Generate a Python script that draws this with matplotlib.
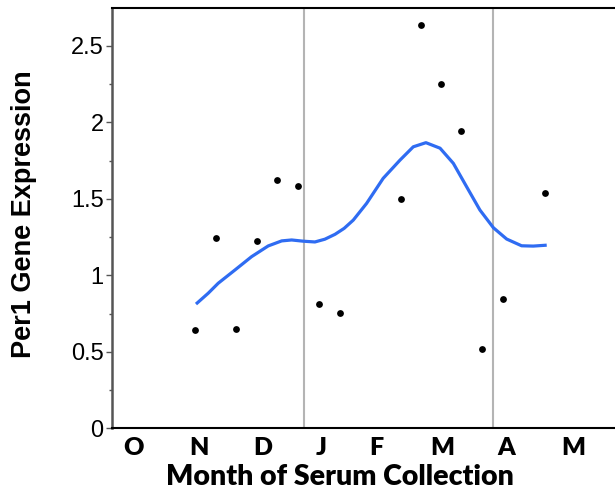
import matplotlib
matplotlib.use("Agg")
import matplotlib.pyplot as plt
from matplotlib.ticker import MultipleLocator

# Data (x in days since Oct 1)
point_days = [29.5, 39.4, 49.4, 59.3, 69.1, 79.1, 89.1, 99.2, 128.5, 138.5, 147.9, 157.5, 167.5, 177.6, 197.9]
point_expr = [0.642, 1.246, 0.65, 1.226, 1.625, 1.584, 0.812, 0.754, 1.497, 2.634, 2.248, 1.941, 0.518, 0.847, 1.540]

curve_days = [29.9, 35.8, 40.6, 48.7, 56.7, 64.7, 71.2, 76.0, 81.6, 87.2, 92.0, 96.9, 101.3, 105.7,
              112.1, 120.1, 128.2, 134.6, 140.7, 147.5, 153.9, 160.3, 166.7, 173.2, 179.6, 186.8,
              192.4, 198.9]
curve_expr = [0.812, 0.883, 0.948, 1.035, 1.122, 1.192, 1.225, 1.231, 1.223, 1.218, 1.236, 1.268, 1.307,
              1.361, 1.470, 1.634, 1.753, 1.840, 1.867, 1.831, 1.732, 1.579, 1.427, 1.311, 1.237,
              1.193, 1.191, 1.197]

month_labels = ["O", "N", "D", "J", "F", "M", "A", "M"]
month_ticks = [0, 31.3, 61.9, 90.1, 117, 148.4, 179.3, 211.6]
reference_days = [82, 173]  # winter solstice, spring equinox

fig = plt.figure(figsize=(6.15, 4.92), dpi=100)
ax = fig.add_axes([0.182, 0.1295, 0.818, 0.8535])

for d in reference_days:
    ax.axvline(d, color="#b4b4b4", lw=1.5, zorder=1)

ax.plot(curve_days, curve_expr, color="#2f6cf2", lw=2.3, zorder=2,
        solid_joinstyle="round", solid_capstyle="butt")
ax.scatter(point_days, point_expr, s=24, color="black", zorder=3, linewidths=0)

ax.set_xlim(-10.6, 231.8)
ax.set_ylim(0, 2.745)

ax.yaxis.set_minor_locator(MultipleLocator(0.25))
ax.set_yticks([0, 0.5, 1, 1.5, 2, 2.5])
ax.set_yticklabels(["0", "0.5", "1", "1.5", "2", "2.5"])
for lbl in ax.get_yticklabels():
    lbl.set_fontfamily("Liberation Sans")
    lbl.set_fontsize(17)
ax.tick_params(axis="y", which="major", length=4, width=1, color="#555555", pad=2)
ax.tick_params(axis="y", which="minor", length=2.5, width=1, color="#555555")

ax.set_xticks(month_ticks)
ax.set_xticklabels(month_labels)
for lbl in ax.get_xticklabels():
    lbl.set_fontfamily("Lato")
    lbl.set_fontweight("heavy")
    lbl.set_fontsize(18)
ax.tick_params(axis="x", length=0, pad=6)

ax.set_xlabel("Month of Serum Collection", family="Lato", fontweight="heavy", fontsize=20.5, labelpad=0)
ax.xaxis.set_label_coords(0.453, -0.085)
ax.set_ylabel("Per1 Gene Expression", family="Liberation Sans", fontweight="bold", fontsize=19.5)
ax.yaxis.set_label_coords(-0.149, 0.51)

ax.spines["right"].set_visible(False)
ax.spines["left"].set_color("#555555")
ax.spines["left"].set_linewidth(1.8)
ax.spines["bottom"].set_color("black")
ax.spines["bottom"].set_linewidth(1.5)
ax.spines["top"].set_color("black")
ax.spines["top"].set_linewidth(1.5)

fig.savefig("out.png", dpi=100)
